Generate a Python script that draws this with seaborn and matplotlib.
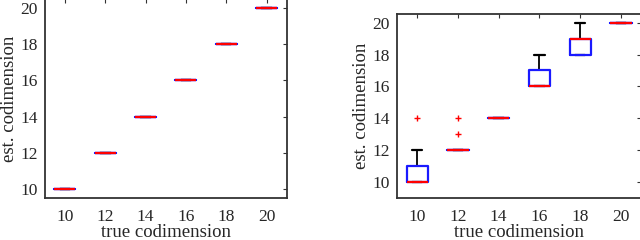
import pandas as pd
import matplotlib
matplotlib.use('Agg')
import matplotlib.pyplot as plt
import seaborn as sns

# true codimension categories
true_codim = [10, 12, 14, 16, 18, 20]

# estimated codimension samples, left panel (every trial exact)
left_10 = [10] * 10
left_12 = [12] * 10
left_14 = [14] * 10
left_16 = [16] * 10
left_18 = [18] * 10
left_20 = [20] * 10

# estimated codimension samples, right panel
right_10 = [10, 10, 10, 10, 10, 10, 11, 11, 12, 14]
right_12 = [12, 12, 12, 12, 12, 12, 12, 12, 13, 14]
right_14 = [14] * 10
right_16 = [16, 16, 16, 16, 16, 16, 17, 17, 17, 18]
right_18 = [18, 18, 18, 18, 19, 19, 19, 19, 19, 20]
right_20 = [20] * 10

yticks = [10, 12, 14, 16, 18, 20]


def to_frame(samples):
    rows = []
    for t, vals in zip(true_codim, samples):
        for v in vals:
            rows.append({'true': str(t), 'est': v})
    return pd.DataFrame(rows)


df_left = to_frame([left_10, left_12, left_14, left_16, left_18, left_20])
df_right = to_frame([right_10, right_12, right_14, right_16, right_18, right_20])

sns.set_style("white")
plt.rcParams['font.family'] = ['Liberation Serif', 'DejaVu Serif']

fig = plt.figure(figsize=(6.4, 2.4), dpi=100)
ax1 = fig.add_axes([0.070, 0.175, 0.378, 0.829])
ax2 = fig.add_axes([0.620, 0.175, 0.382, 0.767])

box_kw = dict(
    x='true', y='est', order=[str(t) for t in true_codim],
    width=0.52, fill=False, whis=1.5,
    boxprops=dict(color='#1a1aff', linewidth=1.6, zorder=3),
    medianprops=dict(color='#ff0000', linewidth=1.6, zorder=4),
    whiskerprops=dict(color='black', linewidth=1.3, zorder=2),
    capprops=dict(color='black', linewidth=1.6, zorder=2),
    flierprops=dict(marker='+', markeredgecolor='#ff0000', markersize=5,
                    markeredgewidth=1.0),
)

sns.boxplot(data=df_left, ax=ax1, **box_kw)
sns.boxplot(data=df_right, ax=ax2, **box_kw)

for ax, ylim in [(ax1, (9.5, 20.5)), (ax2, (9.0, 20.55))]:
    ax.set_xlim(-0.5, 5.5)
    ax.set_ylim(*ylim)
    ax.set_yticks(yticks)
    ax.set_xlabel('true codimension', fontsize=13.5, labelpad=-1)
    ax.set_ylabel('est. codimension', fontsize=13.5, labelpad=2)
    ax.tick_params(direction='in', top=True, right=True, length=3,
                   labelsize=12.5, color='#333333')
    ax.tick_params(axis='x', pad=8)
    ax.tick_params(axis='y', pad=5)
    for s in ax.spines.values():
        s.set_color('#333333')
        s.set_linewidth(1.3)

fig.savefig('out.png', dpi=100)
